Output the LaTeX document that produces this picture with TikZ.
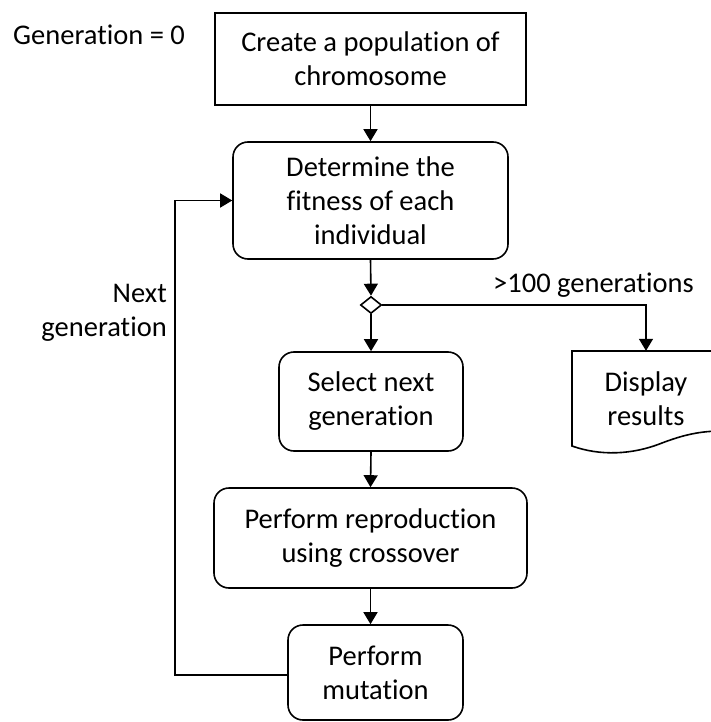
\documentclass[tikz,border=0pt]{standalone}
\usepackage{fontspec}
\setmainfont{Carlito}[Ligatures=NoCommon]
\usetikzlibrary{arrows.meta,shapes.geometric}
\begin{document}
\begin{tikzpicture}[x=1pt,y=-1pt,
  txt/.style={font=\fontsize{28.5}{34}\selectfont, align=center, inner sep=0pt},
  sqbox/.style={txt, draw, line width=1.6pt},
  rbox/.style={txt, draw, line width=1.6pt, rounded corners=15pt},
  arr/.style={line width=1.6pt, -{Triangle[width=14pt,length=12pt]}},
  ln/.style={line width=1.6pt}]
\useasboundingbox (0,0) rectangle (710,722);
\node[sqbox, minimum width=311pt, minimum height=92pt] (pop) at (370.5,59) {Create a population of\\chromosome};
\node[rbox, minimum width=275pt, minimum height=117pt] (fit) at (370.5,200.5) {Determine the\\fitness of each\\individual};
\node[draw, line width=1.6pt, shape=diamond, inner sep=0pt, minimum width=21pt, minimum height=17pt, aspect=1.25] (dia) at (371,305) {};
\node[rbox, minimum width=184pt, minimum height=99pt] (sel) at (371,401.5) {Select next\\generation};
\node[rbox, minimum width=313pt, minimum height=100pt] (rep) at (370.5,538) {Perform reproduction\\using crossover};
\node[rbox, minimum width=175pt, minimum height=95pt] (mut) at (375.5,672.5) {Perform\\mutation};
\node[txt, minimum width=138pt, minimum height=95pt] (disp) at (646,398.5) {Display\\results};
\draw[ln] (572,351) -- (572,446) .. controls (600,456) and (632,455) .. (662,443) .. controls (683,435) and (700,431) .. (722,431) -- (722,351) -- cycle;
\node[txt, anchor=base west] (g0) at (13,45) {Generation = 0};
\node[txt, anchor=base west] (lim) at (493,292) {>100 generations};
\node[txt, anchor=east, align=right] (nxt) at (167,313) {Next\\generation};
\coordinate (lx) at (175,675);
\draw[arr] (pop.south -| fit.north) -- (fit.north);
\draw[arr] (fit.south) -- (dia.north);
\draw[arr] (dia.south) -- (sel.north);
\draw[arr] (dia.east) -| (disp.north);
\draw[arr] (sel.south) -- (rep.north);
\draw[arr] (rep.south) -- (rep.south |- mut.north);
\draw[arr] (mut.west |- lx) -- (lx) |- (fit.west);
\end{tikzpicture}
\end{document}
